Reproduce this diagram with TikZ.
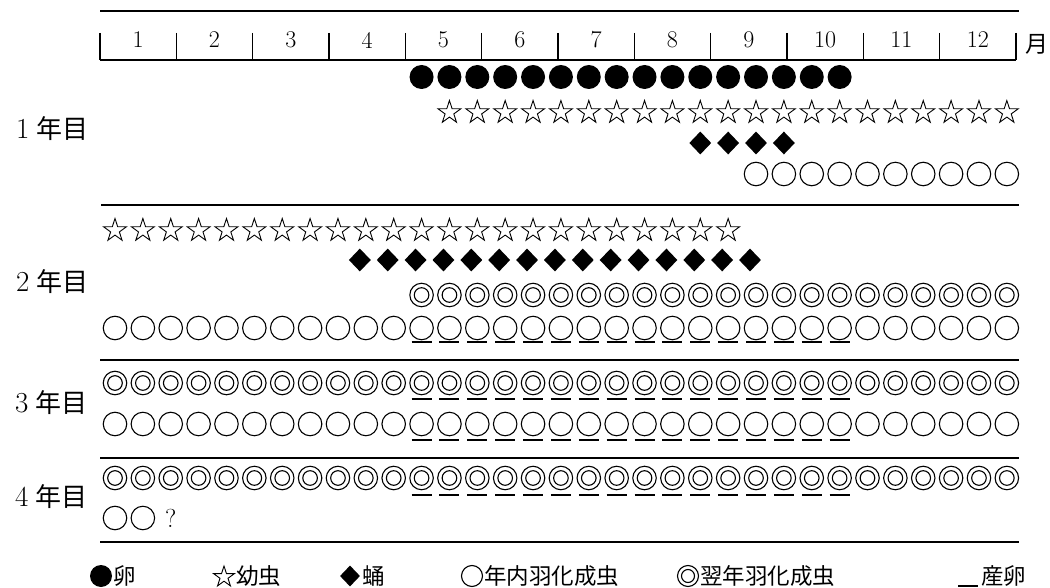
\documentclass[tikz,border=0pt]{standalone}
\usepackage{fontspec}
\newfontfamily\cjk{Noto Sans CJK JP}
\usetikzlibrary{shapes.geometric}
\begin{document}
\begin{tikzpicture}[x=1pt,y=-1pt,
  rule/.style={line width=1.8pt},
  tick/.style={line width=1.2pt},
  ul/.style={line width=1.5pt},
  egg/.style={circle,fill=black,inner sep=0pt,minimum size=24pt},
  larva/.style={star,star points=5,star point ratio=2.618,draw=black,line width=0.9pt,inner sep=0pt,minimum size=24pt},
  pupa/.style={diamond,fill=black,inner sep=0pt,minimum width=22pt,minimum height=23pt},
  adult/.style={circle,draw=black,line width=1.1pt,inner sep=0pt,minimum size=23.5pt},
  adultn/.style={adult,path picture={\draw[line width=1.1pt] (path picture bounding box.center) circle (7.3pt);}},
  mon/.style={inner sep=0pt,font=\fontsize{24}{26}\selectfont},
  lab/.style={inner sep=0pt,anchor=west},
  leg/.style={inner sep=0pt,anchor=west,font=\cjk\fontsize{22.5}{24}\selectfont}
]
\useasboundingbox (0,0) rectangle (1050,588);
% month scale
\draw[rule] (100,11) -- (1019,11);
\draw[tick] (100,60) -- (1016,60);
\foreach \k in {0,...,12} \draw[tick] ({100+76.33*\k},33) -- ({100+76.33*\k},60);
\foreach \m in {1,...,12} \node[mon] (m\m) at ({100+76.33*(\m-0.5)},40) {\m};
\node[inner sep=0pt,font=\cjk\fontsize{23}{24}\selectfont] (tsuki) at (1037,44) {月};
% year labels
\node[lab] (y1) at (16,129) {{\fontsize{29}{30}\selectfont 1}\hspace{7pt}{\cjk\fontsize{26}{28}\selectfont 年目}};
\node[lab] (y2) at (16,282) {{\fontsize{29}{30}\selectfont 2}\hspace{7pt}{\cjk\fontsize{26}{28}\selectfont 年目}};
\node[lab] (y3) at (15,403) {{\fontsize{29}{30}\selectfont 3}\hspace{7pt}{\cjk\fontsize{26}{28}\selectfont 年目}};
\node[lab] (y4) at (15,497) {{\fontsize{29}{30}\selectfont 4}\hspace{7pt}{\cjk\fontsize{26}{28}\selectfont 年目}};
% year 1
\foreach \i in {11,...,26} \node[egg] (a\i) at ({115+27.87*\i},77) {};
\foreach \i in {12,...,32} \node[larva] (b\i) at ({115+27.87*\i},112.5) {};
\foreach \i in {21,...,24} \node[pupa] (c\i) at ({115+27.87*\i},143) {};
\foreach \i in {23,...,32} \node[adult] (d\i) at ({115+27.87*\i},174) {};
\draw[rule] (101,205) -- (1019,205);
% year 2
\foreach \i in {0,...,22} \node[larva] (e\i) at ({115+27.87*\i},230.5) {};
\foreach \i in {9,...,23} \node[pupa] (f\i) at ({109+27.87*\i},260) {};
\foreach \i in {11,...,32} \node[adultn] (g\i) at ({115+27.87*\i},295) {};
\foreach \i in {0,...,32} \node[adult] (h\i) at ({115+27.87*\i},328) {};
\foreach \i in {11,...,26} \draw[ul] ({105+27.87*\i},342) -- ({125+27.87*\i},342);
\draw[rule] (100,360) -- (1019,360);
% year 3
\foreach \i in {0,...,32} \node[adultn] (p\i) at ({115+27.87*\i},383) {};
\foreach \i in {11,...,26} \draw[ul] ({105+27.87*\i},399) -- ({125+27.87*\i},399);
\foreach \i in {0,...,32} \node[adult] (q\i) at ({115+27.87*\i},424) {};
\foreach \i in {11,...,26} \draw[ul] ({105+27.87*\i},440) -- ({125+27.87*\i},440);
\draw[rule] (100,458) -- (1019,458);
% year 4
\foreach \i in {0,...,32} \node[adultn] (r\i) at ({115+27.87*\i},478) {};
\foreach \i in {11,...,26} \draw[ul] ({105+27.87*\i},495) -- ({125+27.87*\i},495);
\foreach \i in {0,1} \node[adult] (s\i) at ({115+27.87*\i},518) {};
\node[inner sep=0pt,font=\fontsize{26}{28}\selectfont] (qm) at ({115+27.87*2},518) {?};
\draw[rule] (100,542) -- (1019,542);
% legend
\node[egg,minimum size=22pt] (le) at (101,576) {};
\node[leg] (lt1) at (113,576) {卵};
\node[larva,minimum size=22pt] (ll) at (224,577) {};
\node[leg] (lt2) at (236,576) {幼虫};
\node[pupa,minimum width=20pt,minimum height=21pt] (lp) at (350,576) {};
\node[leg] (lt3) at (362,576) {蛹};
\node[adult,minimum size=21pt] (la) at (472,576) {};
\node[leg] (lt4) at (484,576) {年内羽化成虫};
\node[adultn,minimum size=21pt,path picture={\draw[line width=1.1pt] (path picture bounding box.center) circle (6.5pt);}] (ln) at (688,576) {};
\node[leg] (lt5) at (700,576) {翌年羽化成虫};
\coordinate (us) at (958,586);
\coordinate (ue) at (978,586);
\draw[ul] (us) -- (ue);
\node[leg] (lt6) at (981,576) {産卵};
\end{tikzpicture}
\end{document}
